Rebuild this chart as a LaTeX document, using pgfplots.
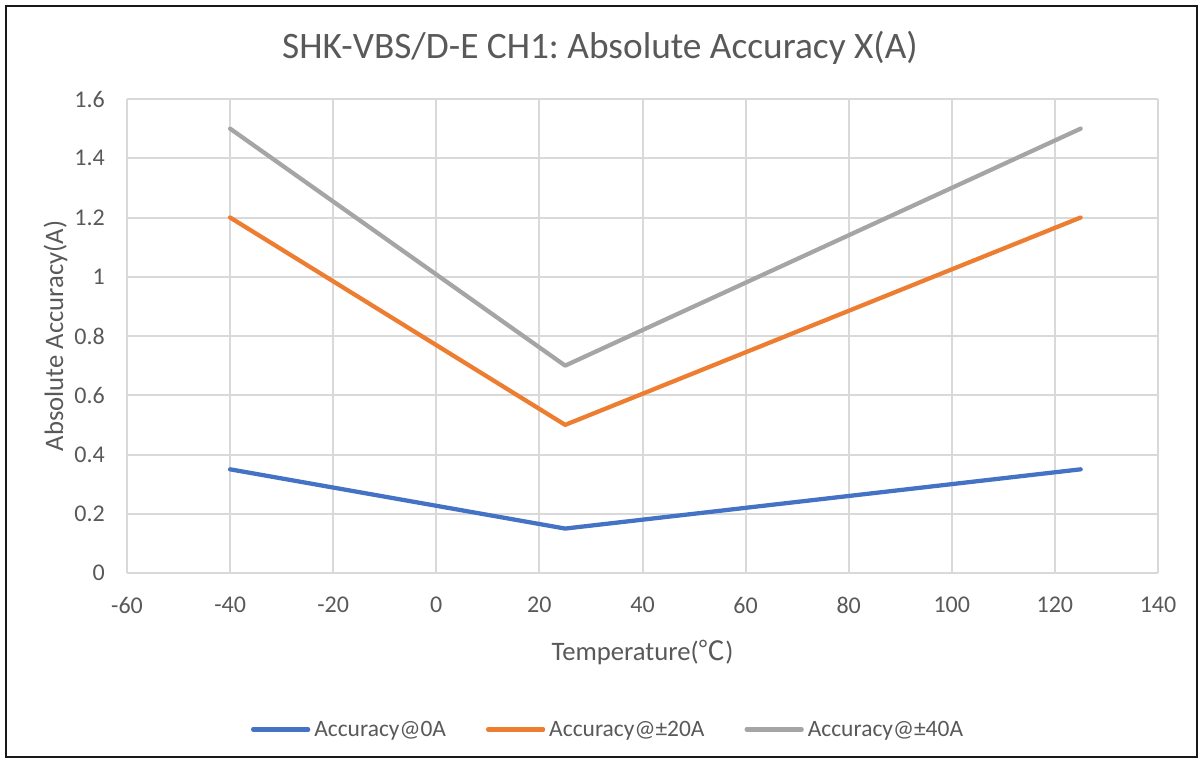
\documentclass[border=0pt]{standalone}
\usepackage{pgfplots}
\pgfplotsset{compat=1.18}
\usepackage{fontspec}
\setmainfont{Carlito}
\newfontfamily\cjk{Noto Sans CJK SC}
\frenchspacing

\definecolor{xlblue}{HTML}{4472C4}
\definecolor{xlorange}{HTML}{ED7D31}
\definecolor{xlgray}{HTML}{A5A5A5}
\definecolor{gridc}{HTML}{D9D9D9}
\definecolor{zeroc}{HTML}{BFBFBF}
\definecolor{txt}{HTML}{595959}

% 1 px of the reference = 0.75pt
\begin{document}
\begin{tikzpicture}
\path[use as bounding box] (0pt,0pt) rectangle (900pt,-573pt);
\draw[line width=1.5pt, black!90] (4.5pt,-4.5pt) rectangle (897.4pt,-567.4pt);

\begin{axis}[
    at={(95.25pt,-429.75pt)}, anchor=south west,
    scale only axis,
    width=773.25pt, height=355.5pt,
    xmin=-60, xmax=140,
    ymin=0, ymax=1.6,
    xtick={-60,-40,...,140},
    xticklabels={-60,-40,-20,0,20,40,60,80,100,120,140},
    ytick={0,0.2,0.4,0.6,0.8,1,1.2,1.4,1.6},
    yticklabels={0,0.2,0.4,0.6,0.8,1,1.2,1.4,1.6},
    extra x ticks={0},
    extra x tick labels={},
    extra x tick style={grid style={zeroc, line width=1.5pt}},
    grid=major,
    major grid style={gridc, line width=1.5pt},
    axis line style={draw=none},
    major tick length=0pt,
    tick label style={font=\fontsize{18pt}{21pt}\selectfont, text=txt, inner sep=0pt},
    xticklabel shift=18pt,
    yticklabel shift=16.5pt,
    legend columns=3,
    legend style={draw=none, fill=none,
        at={(axis description cs:0.4656,-0.33)}, anchor=center,
        font=\fontsize{17.6pt}{21pt}\selectfont, text=txt,
        nodes={inner sep=0pt},
        /tikz/every odd column/.append style={column sep=3pt},
        /tikz/every even column/.append style={column sep=30pt}},
    legend image code/.code={\draw[#1] (0pt,0pt) -- (41.25pt,0pt);},
    every axis plot/.append style={line width=3.2pt, line join=round, line cap=round},
]
\addplot[xlblue] coordinates {(-40,0.35) (25,0.15) (125,0.35)};
\addplot[xlorange] coordinates {(-40,1.2) (25,0.5) (125,1.2)};
\addplot[xlgray] coordinates {(-40,1.5) (25,0.7) (125,1.5)};
\legend{Accuracy@0A, Accuracy@±20A, Accuracy@±40A}
\end{axis}

\node[anchor=base, text=txt, font=\fontsize{28pt}{33pt}\selectfont, inner sep=0pt]
    at (450pt,-43.9pt) {SHK-VBS/D-E CH1: Absolute Accuracy X(A)};
\node[anchor=base, text=txt, font=\fontsize{20pt}{24pt}\selectfont, inner sep=0pt]
    at (481.9pt,-495pt) {Temperature({\cjk ℃})};
\node[anchor=base, rotate=90, text=txt, font=\fontsize{20pt}{24pt}\selectfont, inner sep=0pt]
    at (47.25pt,-252pt) {Absolute Accuracy(A)};
\end{tikzpicture}
\end{document}
